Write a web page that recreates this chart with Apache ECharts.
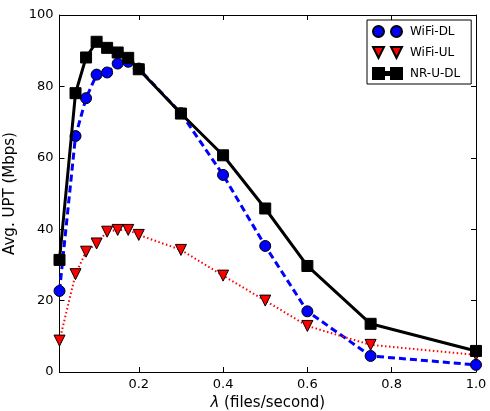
<!DOCTYPE html>
<html>
<head>
<meta charset="utf-8">
<script src="https://cdn.jsdelivr.net/npm/echarts@6/dist/echarts.min.js"></script>
<style>
  html, body { margin: 0; padding: 0; background: #fff; }
  #chart { width: 490px; height: 411px; }
</style>
</head>
<body>
<div id="chart"></div>
<script>
const lambdaVals = [0.012, 0.05, 0.075, 0.1, 0.125, 0.15, 0.175, 0.2, 0.3, 0.4, 0.5, 0.6, 0.75, 1.0];
const wifiDL = [22.7, 66.1, 76.7, 83.3, 83.9, 86.4, 86.9, 85.0, 72.5, 55.2, 35.3, 17.0, 4.5, 2.0];
const wifiUL = [8.8, 27.4, 33.7, 36.0, 39.3, 39.8, 39.8, 38.4, 34.2, 27.0, 20.0, 12.9, 7.6, 4.8];
const nruDL = [31.4, 78.1, 88.1, 92.5, 90.8, 89.5, 88.0, 84.8, 72.4, 60.7, 45.8, 29.7, 13.5, 5.9];
const xTicks = [0.2, 0.4, 0.6, 0.8, 1.0];
const seriesNames = ['WiFi-DL', 'WiFi-UL', 'NR-U-DL'];

const FONT = 'DejaVu Sans';
const pair = (ys) => lambdaVals.map((x, i) => [x, ys[i]]);

const chart = echarts.init(document.getElementById('chart'), null, { renderer: 'canvas' });

const tickCommon = { show: true, inside: true, length: 5, lineStyle: { color: '#000', width: 1 } };
const lineCommon = { show: true, onZero: false, lineStyle: { color: '#000', width: 1 } };

chart.setOption({
  animation: false,
  backgroundColor: '#fff',
  grid: { left: 59.5, right: 14, top: 15, bottom: 39, containLabel: false, outerBoundsMode: 'none' },
  legend: {
    orient: 'vertical',
    left: 367,
    top: 20,
    padding: [5, 11, 4, 5],
    itemGap: 8,
    itemWidth: 29,
    itemHeight: 11,
    borderColor: '#000',
    borderWidth: 1,
    backgroundColor: '#fff',
    textStyle: { fontFamily: FONT, fontSize: 12, color: '#000', padding: [0, 0, 0, 3] },
    data: [
      { name: seriesNames[0], icon: 'path://M0,5.5 A5.5,5.5 0 1,1 11,5.5 A5.5,5.5 0 1,1 0,5.5 Z M18,5.5 A5.5,5.5 0 1,1 29,5.5 A5.5,5.5 0 1,1 18,5.5 Z' },
      { name: seriesNames[1], icon: 'path://M0,0 L11,0 L5.5,11 Z M18,0 L29,0 L23.5,11 Z' },
      { name: seriesNames[2], icon: 'path://M0,0 H11 V4 H18 V0 H29 V11 H18 V7 H11 V11 H0 Z' }
    ]
  },
  xAxis: [
    {
      type: 'value', min: 0.012, max: 1.0, position: 'bottom',
      axisLine: lineCommon,
      axisTick: Object.assign({ customValues: xTicks }, tickCommon),
      axisLabel: {
        customValues: xTicks, margin: 6,
        formatter: (v) => v.toFixed(1),
        fontFamily: FONT, fontSize: 13, color: '#000'
      },
      splitLine: { show: false },
      name: '{i|λ} (files/second)',
      nameLocation: 'middle',
      nameGap: 23,
      nameTextStyle: {
        fontFamily: FONT, fontSize: 15, color: '#000',
        rich: { i: { fontFamily: FONT, fontSize: 15, fontStyle: 'italic', color: '#000' } }
      }
    },
    {
      type: 'value', min: 0.012, max: 1.0, position: 'top',
      axisLine: lineCommon,
      axisTick: Object.assign({ customValues: xTicks }, tickCommon),
      axisLabel: { show: false },
      splitLine: { show: false }
    }
  ],
  yAxis: [
    {
      type: 'value', min: 0, max: 100, interval: 20, position: 'left',
      axisLine: lineCommon,
      axisTick: tickCommon,
      axisLabel: { margin: 6, fontFamily: FONT, fontSize: 13, color: '#000' },
      splitLine: { show: false },
      name: 'Avg. UPT (Mbps)',
      nameLocation: 'middle',
      nameGap: 35,
      nameTextStyle: { fontFamily: FONT, fontSize: 15, color: '#000' }
    },
    {
      type: 'value', min: 0, max: 100, interval: 20, position: 'right',
      axisLine: lineCommon,
      axisTick: tickCommon,
      axisLabel: { show: false },
      splitLine: { show: false }
    }
  ],
  series: [
    {
      name: seriesNames[0], type: 'line', data: pair(wifiDL),
      symbol: 'circle', symbolSize: 11,
      lineStyle: { color: '#0000ff', width: 3, type: [7, 4] },
      itemStyle: { color: '#0000ff', borderColor: '#000', borderWidth: 1 },
      emphasis: { disabled: true }, z: 2
    },
    {
      name: seriesNames[1], type: 'line', data: pair(wifiUL),
      symbol: 'triangle', symbolRotate: 180, symbolSize: 11,
      lineStyle: { color: '#ff0000', width: 2, type: [1.5, 2.5] },
      itemStyle: { color: '#ff0000', borderColor: '#000', borderWidth: 1 },
      emphasis: { disabled: true }, z: 3
    },
    {
      name: seriesNames[2], type: 'line', data: pair(nruDL),
      symbol: 'rect', symbolSize: 11,
      lineStyle: { color: '#000', width: 3, type: 'solid' },
      itemStyle: { color: '#000', borderColor: '#000', borderWidth: 1 },
      emphasis: { disabled: true }, z: 4
    }
  ]
});
</script>
</body>
</html>
